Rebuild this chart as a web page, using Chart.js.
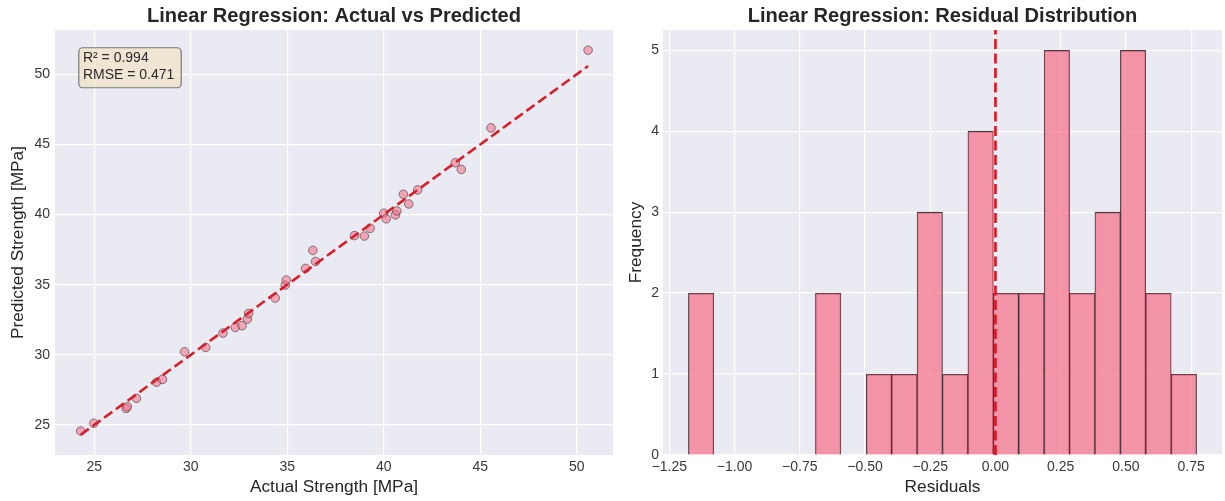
<!DOCTYPE html>
<html><head><meta charset="utf-8">
<script src="https://cdn.jsdelivr.net/npm/chart.js@4.4.1/dist/chart.umd.min.js"></script>
<style>
html,body{margin:0;padding:0;background:#fff;width:1225px;height:501px;overflow:hidden}
#left{position:absolute;left:0;top:0;width:620px;height:501px}
#right{position:absolute;left:620px;top:0;width:605px;height:501px}
</style></head><body>
<div id="left"><canvas id="c1" width="620" height="501"></canvas></div>
<div id="right"><canvas id="c2" width="605" height="501"></canvas></div>
<script>
// ---- data ----
const actualStrength = [24.30,24.98,26.65,26.72,27.19,28.23,28.54,29.68,30.78,31.67,32.31,32.66,32.94,33.00,34.38,34.90,34.95,35.95,36.47,36.33,38.49,39.00,39.30,40.00,40.13,40.61,40.68,41.02,41.30,41.76,43.71,44.02,45.56,50.59];
const predictedStrength = [24.57,25.12,26.18,26.30,26.90,28.05,28.25,30.22,30.53,31.55,31.95,32.08,32.55,32.95,34.05,34.97,35.33,36.16,36.66,37.45,38.50,38.47,39.02,40.10,39.70,39.98,40.26,41.45,40.76,41.76,43.70,43.22,46.18,51.72];
const scatterXTicks = [25,30,35,40,45,50];
const scatterYTicks = [25,30,35,40,45,50];
const residualBinCenters = [-1.1283,-1.0309,-0.9335,-0.8361,-0.7387,-0.6413,-0.5439,-0.4465,-0.3491,-0.2517,-0.1543,-0.0569,0.0405,0.1379,0.2353,0.3327,0.4301,0.5275,0.6249,0.7223];
const residualCounts = [2,0,0,0,0,2,0,1,1,3,1,4,2,2,5,2,3,5,2,1];
const histXTicks = [-1.25,-1.00,-0.75,-0.50,-0.25,0.00,0.25,0.50,0.75];
const histYTicks = [0,1,2,3,4,5];
const statsLines = ['R\u00b2 = 0.994','RMSE = 0.471'];
const titles = ['Linear Regression: Actual vs Predicted','Linear Regression: Residual Distribution'];

// ---- styling ----
const FONT = '"Liberation Sans", Arial, Helvetica, sans-serif';
Chart.defaults.font.family = FONT;
Chart.defaults.color = '#333';
Chart.defaults.animation = false;

const plotBg = {id:'plotBg', beforeDraw(chart){
  const {ctx, chartArea:a} = chart;
  ctx.save(); ctx.fillStyle = '#eaeaf2';
  ctx.fillRect(a.left, a.top, a.right-a.left, a.bottom-a.top); ctx.restore();
}};

// axes title, centred over the plot area (as matplotlib does)
const axesTitle = {id:'axesTitle', afterDraw(chart, args, opts){
  const {ctx, chartArea:a} = chart;
  ctx.save();
  ctx.fillStyle = '#262626';
  ctx.font = 'bold 20.1px ' + FONT;
  ctx.textAlign = 'center'; ctx.textBaseline = 'middle';
  ctx.fillText(opts.text, (a.left+a.right)/2, 16);
  ctx.restore();
}};

const statsBox = {id:'statsBox', afterDatasetsDraw(chart){
  const {ctx, chartArea:a} = chart;
  const w = a.right-a.left, h = a.bottom-a.top;
  const tx = a.left + 0.05*w, ty = a.top + 0.05*h;
  const bx = tx-4.6, by = ty-4, bw = 102.4, bh = 40;
  ctx.save();
  ctx.beginPath();
  ctx.roundRect(bx+0.5, by+0.5, bw, bh, 4);
  ctx.fillStyle = 'rgba(245,222,179,0.5)';
  ctx.fill();
  ctx.lineWidth = 1.2; ctx.strokeStyle = 'rgba(110,110,110,0.9)';
  ctx.stroke();
  ctx.fillStyle = '#2b2b2b';
  ctx.font = '14px ' + FONT;
  ctx.textBaseline = 'middle'; ctx.textAlign = 'left';
  statsLines.forEach((s,i)=>ctx.fillText(s, tx, ty + 7.1 + i*16.7));
  ctx.restore();
}};

function fixedTicks(vals){ return (s)=>{ s.ticks = vals.map(v=>({value:v})); }; }
const gridOpts = {color:'#ffffff', lineWidth:1.2, drawTicks:false, offset:false};
const tickFont = {size:14, family:FONT};
const labelFont = {size:17.3, family:FONT};

// ---- left: scatter ----
const lineMin = Math.min(...actualStrength), lineMax = Math.max(...actualStrength);
new Chart(document.getElementById('c1'), {
  type:'scatter',
  data:{datasets:[
    {type:'line', data:[{x:lineMin,y:lineMin},{x:lineMax,y:lineMax}], borderColor:'#d91e2b',
     borderWidth:2.6, borderDash:[10,4.5], pointRadius:0, fill:false, order:0},
    {data:actualStrength.map((v,i)=>({x:v, y:predictedStrength[i]})),
     pointRadius:4.3, pointBackgroundColor:'rgba(247,113,137,0.58)',
     pointBorderColor:'rgba(40,40,40,0.6)', pointBorderWidth:0.9, order:1}
  ]},
  options:{responsive:false, devicePixelRatio:1,
    layout:{padding:{left:0,right:7,top:30,bottom:0}},
    plugins:{legend:{display:false}, tooltip:{enabled:false}, title:{display:false},
      axesTitle:{text:titles[0]}},
    scales:{
      x:{type:'linear', min:22.97, max:51.88, afterBuildTicks:fixedTicks(scatterXTicks),
         afterFit:(s)=>{s.height=46;}, grid:gridOpts, border:{display:false},
         ticks:{font:tickFont, padding:4, maxRotation:0, autoSkip:false, color:'#383838'},
         title:{display:true, text:'Actual Strength [MPa]', font:labelFont, color:'#262626', padding:{top:0,bottom:3.6}}},
      y:{type:'linear', min:22.86, max:53.16, afterBuildTicks:fixedTicks(scatterYTicks),
         afterFit:(s)=>{s.width=55;}, grid:gridOpts, border:{display:false},
         ticks:{font:tickFont, padding:5, autoSkip:false, color:'#383838'},
         title:{display:true, text:'Predicted Strength [MPa]', font:labelFont, color:'#262626', padding:{top:7.6,bottom:0}}}
    }
  },
  plugins:[plotBg, statsBox, axesTitle]
});

// ---- right: histogram ----
const fmtHist = (v)=>{ const s = Math.abs(v).toFixed(2); return v < 0 ? '\u2212' + s : s; };
new Chart(document.getElementById('c2'), {
  type:'bar',
  data:{datasets:[
    {type:'line', data:[{x:0,y:0},{x:0,y:5.25}], borderColor:'#e3101c', borderWidth:2.6,
     borderDash:[10,4.5], pointRadius:0, fill:false, order:0},
    {type:'bar', data:residualBinCenters.map((c,i)=>({x:c, y:residualCounts[i]})),
     backgroundColor:'rgba(247,113,137,0.72)', borderColor:'rgba(30,10,15,0.8)',
     borderWidth:{top:1.1, left:0.8, right:0.8, bottom:0}, borderSkipped:false,
     barPercentage:1, categoryPercentage:1, order:1}
  ]},
  options:{responsive:false, devicePixelRatio:1,
    layout:{padding:{left:0,right:3,top:30,bottom:0}},
    plugins:{legend:{display:false}, tooltip:{enabled:false}, title:{display:false},
      axesTitle:{text:titles[1]}},
    scales:{
      x:{type:'linear', offset:false, min:-1.2744, max:0.8684, afterBuildTicks:fixedTicks(histXTicks),
         afterFit:(s)=>{s.height=46;}, grid:gridOpts, border:{display:false},
         ticks:{font:tickFont, padding:4, maxRotation:0, autoSkip:false, color:'#383838', callback:(v)=>fmtHist(v)},
         title:{display:true, text:'Residuals', font:labelFont, color:'#262626', padding:{top:0,bottom:3.6}}},
      y:{type:'linear', min:0, max:5.25, afterBuildTicks:fixedTicks(histYTicks),
         afterFit:(s)=>{s.width=43;}, grid:gridOpts, border:{display:false},
         ticks:{font:tickFont, padding:4, autoSkip:false, color:'#383838'},
         title:{display:true, text:'Frequency', font:labelFont, color:'#262626', padding:{top:6.3,bottom:0}}}
    }
  },
  plugins:[plotBg, axesTitle]
});
</script>
</body></html>
